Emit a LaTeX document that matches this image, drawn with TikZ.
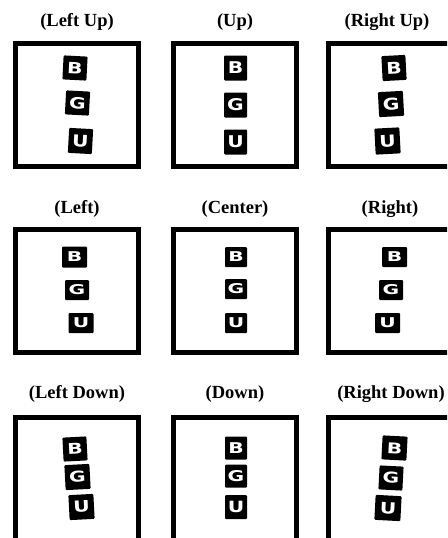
\documentclass[tikz,border=0pt]{standalone}
\usepackage{fontspec}
\setmainfont{Liberation Serif}
\newfontfamily\tilefont{DejaVu Sans}[BoldFont={DejaVu Sans Bold}]
\newcommand\tlet[2]{\scalebox{1.5}[#1]{\tilefont\bfseries #2}}
\tikzset{
  panel/.style={draw=black, line width=5pt, minimum width=123pt, minimum height=123pt, inner sep=0pt},
  ttl/.style={font=\fontsize{18.5}{20}\selectfont\bfseries, inner sep=0pt, anchor=center},
  tile/.style={fill=black, text=white, inner sep=0pt, rounded corners=1pt, font=\fontsize{13.5}{14}\selectfont},
}
\begin{document}
\begin{tikzpicture}[x=1pt,y=-1pt]
\useasboundingbox (0,0) rectangle (447,538);
\clip (0,0) rectangle (447,538);
% panels
\node[panel] (p11) at (77,105) {};
\node[panel] (p12) at (234.5,105) {};
\node[panel] (p13) at (390,105) {};
\node[panel] (p21) at (77,291) {};
\node[panel] (p22) at (234.5,291) {};
\node[panel] (p23) at (390,291) {};
\node[panel] (p31) at (77,479) {};
\node[panel] (p32) at (234.5,479) {};
\node[panel] (p33) at (390,479) {};
% titles
\node[ttl] (t11) at (77,22) {(Left Up)};
\node[ttl] (t12) at (235,22) {(Up)};
\node[ttl] (t13) at (387,22) {(Right Up)};
\node[ttl] (t21) at (77,209) {(Left)};
\node[ttl] (t22) at (235,209) {(Center)};
\node[ttl] (t23) at (390,209) {(Right)};
\node[ttl] (t31) at (77,394) {(Left Down)};
\node[ttl] (t32) at (235,394) {(Down)};
\node[ttl] (t33) at (391,394) {(Right Down)};
% Left Up
\node[tile, minimum width=24pt, minimum height=24pt, rotate=-3] (b11) at (75,68) {\tlet{1.15}{B}};
\node[tile, minimum width=24pt, minimum height=24pt, rotate=-3] (g11) at (77.5,103) {\tlet{1.15}{G}};
\node[tile, minimum width=24pt, minimum height=25pt, rotate=-3] (u11) at (80.5,141) {\tlet{1.2}{U}};
% Up
\node[tile, minimum width=23pt, minimum height=25pt] (b12) at (235.5,68) {\tlet{1.2}{B}};
\node[tile, minimum width=23pt, minimum height=25pt] (g12) at (235.5,105) {\tlet{1.2}{G}};
\node[tile, minimum width=23pt, minimum height=25pt] (u12) at (235.5,142) {\tlet{1.2}{U}};
% Right Up
\node[tile, minimum width=24pt, minimum height=25pt, rotate=3] (b13) at (394,68) {\tlet{1.2}{B}};
\node[tile, minimum width=25pt, minimum height=25pt, rotate=3] (g13) at (391,104) {\tlet{1.2}{G}};
\node[tile, minimum width=25pt, minimum height=26pt, rotate=3] (u13) at (387.5,141) {\tlet{1.2}{U}};
% Left
\node[tile, minimum width=25pt, minimum height=21pt] (b21) at (74.5,257) {\tlet{1}{B}};
\node[tile, minimum width=24pt, minimum height=20pt] (g21) at (77,290) {\tlet{1}{G}};
\node[tile, minimum width=25pt, minimum height=20pt] (u21) at (81,323) {\tlet{1}{U}};
% Center
\node[tile, minimum width=22pt, minimum height=20pt] (b22) at (236,257) {\tlet{1}{B}};
\node[tile, minimum width=22pt, minimum height=20pt] (g22) at (236,289) {\tlet{1}{G}};
\node[tile, minimum width=22pt, minimum height=20pt] (u22) at (236,323) {\tlet{1}{U}};
% Right
\node[tile, minimum width=25pt, minimum height=20pt] (b23) at (394.5,257) {\tlet{1}{B}};
\node[tile, minimum width=24pt, minimum height=20pt] (g23) at (391,290) {\tlet{1}{G}};
\node[tile, minimum width=25pt, minimum height=20pt] (u23) at (387.5,323) {\tlet{1}{U}};
% Left Down
\node[tile, minimum width=24pt, minimum height=24pt, rotate=3] (b31) at (75,449) {\tlet{1.1}{B}};
\node[tile, minimum width=25pt, minimum height=25pt, rotate=3] (g31) at (77.5,477) {\tlet{1.1}{G}};
\node[tile, minimum width=25pt, minimum height=25pt, rotate=3] (u31) at (81.5,507) {\tlet{1.15}{U}};
% Down
\node[tile, minimum width=22pt, minimum height=23pt] (b32) at (236,448) {\tlet{1.1}{B}};
\node[tile, minimum width=22pt, minimum height=23pt] (g32) at (236,476) {\tlet{1.1}{G}};
\node[tile, minimum width=22pt, minimum height=24pt] (u32) at (236,507) {\tlet{1.15}{U}};
% Right Down
\node[tile, minimum width=25pt, minimum height=24pt, rotate=-3] (b33) at (394.5,448) {\tlet{1.1}{B}};
\node[tile, minimum width=24pt, minimum height=24pt, rotate=-3] (g33) at (391,478) {\tlet{1.1}{G}};
\node[tile, minimum width=26pt, minimum height=25pt, rotate=-3] (u33) at (388,508) {\tlet{1.15}{U}};
\end{tikzpicture}
\end{document}
